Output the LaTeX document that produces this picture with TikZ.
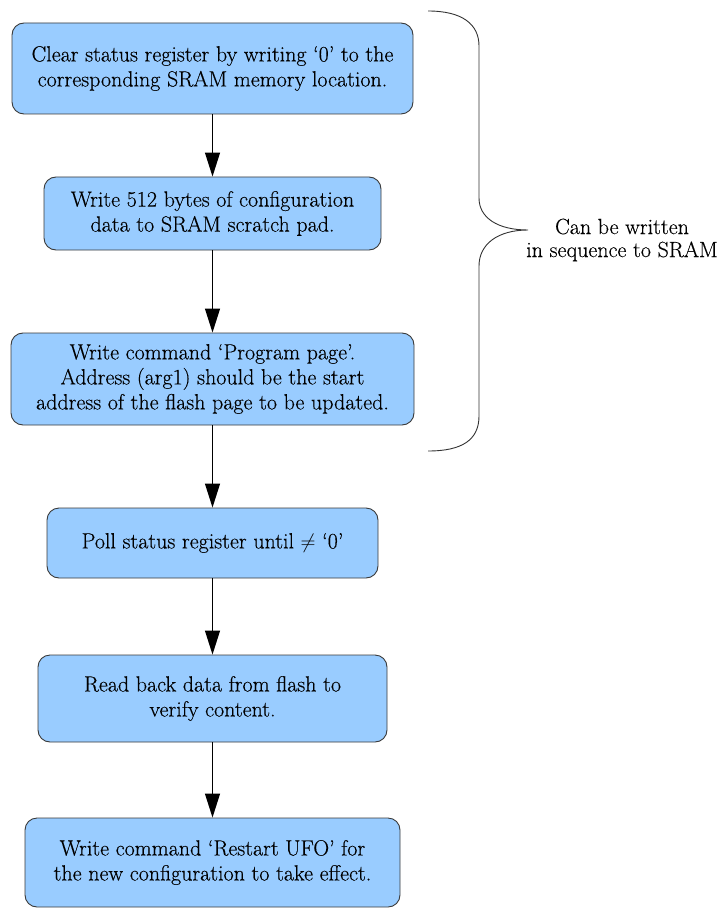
\documentclass[tikz,border=0pt]{standalone}
\usepackage{fontspec}
\newfontfamily\boxfont{Latin Modern Roman}[FakeBold=0.3]
\usetikzlibrary{arrows.meta}
\definecolor{boxfill}{HTML}{99CCFF}
\definecolor{boxline}{HTML}{3A3A3A}
\definecolor{braceline}{HTML}{333333}
\tikzset{
  stepbox/.style={draw=boxline, fill=boxfill, line width=0.9pt, rounded corners=12pt,
    inner sep=0pt, align=center, font=\boxfont\fontsize{22}{25}\selectfont},
  flowarrow/.style={line width=1.2pt, -{Triangle[length=24pt,width=15pt]}},
  bracestyle/.style={draw=braceline, line width=0.9pt},
  labelstyle/.style={align=center, inner sep=0pt, font=\boxfont\fontsize{22}{23}\selectfont},
}
\begin{document}
\begin{tikzpicture}[x=1pt,y=-1pt]
\useasboundingbox (0,0) rectangle (723,909);
\node[stepbox, minimum width=401pt, minimum height=91pt] (b1) at (212.5,68.5)
  {Clear status register by writing ‘0’ to the\\corresponding SRAM memory location.};
\node[stepbox, minimum width=337pt, minimum height=73pt] (b2) at (212.5,213.5)
  {Write 512 bytes of configuration\\data to SRAM scratch pad.};
\node[stepbox, minimum width=403pt, minimum height=92pt] (b3) at (212.5,379)
  {Write command ‘Program page’.\\Address (arg1) should be the start\\address of the flash page to be updated.};
\node[stepbox, minimum width=331pt, minimum height=70pt] (b4) at (212.5,543)
  {Poll status register until $\neq$ ‘0’};
\node[stepbox, minimum width=349pt, minimum height=87pt] (b5) at (212.5,698.5)
  {Read back data from flash to\\verify content.};
\node[stepbox, minimum width=375pt, minimum height=89pt] (b6) at (212.5,862.5)
  {Write command ‘Restart UFO’ for\\the new configuration to take effect.};
\draw[flowarrow] (b1.south) -- (b2.north);
\draw[flowarrow] (b2.south) -- (b3.north);
\draw[flowarrow] (b3.south) -- (b4.north);
\draw[flowarrow] (b4.south) -- (b5.north);
\draw[flowarrow] (b5.south) -- (b6.north);
\node[labelstyle] (lbl) at (622,240) {Can be written\\in sequence to SRAM};
\coordinate (btop) at (428,11);
\coordinate (btip) at (528,230);
\coordinate (bbot) at (428,451);
\draw[bracestyle] (btop) .. controls (462,11) and (479,24) .. (479,46) -- (479,198)
  .. controls (479,218) and (498,230) .. (btip)
  .. controls (498,230) and (479,244) .. (479,266) -- (479,416)
  .. controls (479,440) and (462,451) .. (bbot);
\end{tikzpicture}
\end{document}
